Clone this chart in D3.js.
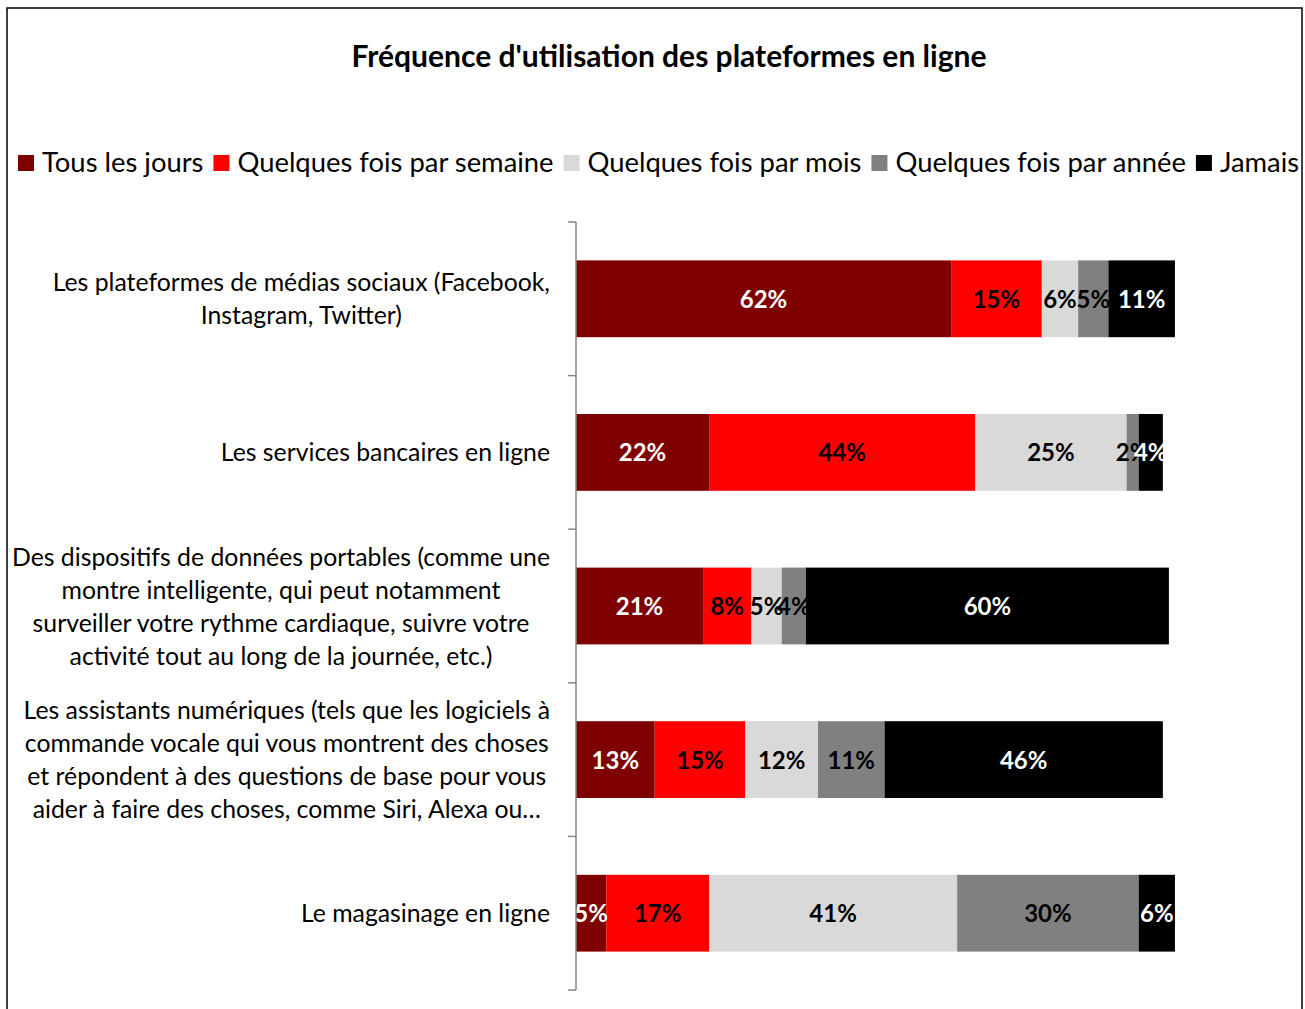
<!DOCTYPE html>
<html>
<head>
<meta charset="utf-8">
<script src="https://cdn.jsdelivr.net/npm/d3@7"></script>
<style>
  body { margin: 0; background: #fff; }
  text { font-family: Lato, "Open Sans", sans-serif; }
</style>
</head>
<body>
<svg id="chart" width="1305" height="1009"></svg>
<script>
// Data
var categories = [
  ["Les plateformes de médias sociaux (Facebook,", "Instagram, Twitter)"],
  ["Les services bancaires en ligne"],
  ["Des dispositifs de données portables (comme une", "montre intelligente, qui peut notamment", "surveiller votre rythme cardiaque, suivre votre", "activité tout au long de la journée, etc.)"],
  ["Les assistants numériques (tels que les logiciels à", "commande vocale qui vous montrent des choses", "et répondent à des questions de base pour vous", "aider à faire des choses, comme Siri, Alexa ou…"],
  ["Le magasinage en ligne"]
];
var seriesNames = ["Tous les jours", "Quelques fois par semaine", "Quelques fois par mois", "Quelques fois par année", "Jamais"];
var tousLesJours = [62, 22, 21, 13, 5];
var parSemaine = [15, 44, 8, 15, 17];
var parMois = [6, 25, 5, 12, 41];
var parAnnee = [5, 2, 4, 11, 30];
var jamais = [11, 4, 60, 46, 6];
var colors = ["#7F0000", "#FF0000", "#D9D9D9", "#808080", "#000000"];
var labelColors = ["#fff", "#000", "#000", "#000", "#fff"];

var svg = d3.select("#chart");

// frame
svg.append("rect")
  .attr("x", 7).attr("y", 8)
  .attr("width", 1295).attr("height", 1020)
  .attr("fill", "none").attr("stroke", "#000").attr("stroke-width", 1.5);

// title
svg.append("text")
  .attr("x", 669).attr("y", 67)
  .attr("text-anchor", "middle")
  .attr("font-size", 30).attr("font-weight", "bold")
  .text("Fréquence d'utilisation des plateformes en ligne");

// scales
var idx = d3.range(categories.length);
var y = d3.scaleBand().domain(idx).range([222, 990]).paddingInner(0.5).paddingOuter(0.25);
var x = d3.scaleLinear().domain([0, 100]).range([576, 1181]);

var rows = idx.map(i => ({ i: i, values: [tousLesJours[i], parSemaine[i], parMois[i], parAnnee[i], jamais[i]] }));
var stack = d3.stack().keys(d3.range(5)).value((d, k) => d.values[k]);
var layers = stack(rows);

var g = svg.append("g");
layers.forEach((layer, k) => {
  g.append("g").selectAll("rect").data(layer).join("rect")
    .attr("x", d => x(d[0]))
    .attr("y", d => y(d.data.i))
    .attr("width", d => x(d[1]) - x(d[0]))
    .attr("height", y.bandwidth())
    .attr("fill", colors[k]);
});
layers.forEach((layer, k) => {
  g.append("g").selectAll("text").data(layer).join("text")
    .attr("x", d => (x(d[0]) + x(d[1])) / 2)
    .attr("y", d => y(d.data.i) + y.bandwidth() / 2 + 9)
    .attr("text-anchor", "middle")
    .attr("font-size", 24).attr("font-weight", "bold")
    .attr("fill", labelColors[k])
    .text(d => (d[1] - d[0]) + "%");
});

// axis line and ticks at category boundaries
var axis = svg.append("g").attr("stroke", "#868686").attr("stroke-width", 1.5);
axis.append("line").attr("x1", 576).attr("x2", 576).attr("y1", y.range()[0]).attr("y2", y.range()[1]);
d3.range(categories.length + 1).forEach(j => {
  var yy = y.range()[0] + j * y.step();
  axis.append("line").attr("x1", 568).attr("x2", 576).attr("y1", yy).attr("y2", yy);
});

// category labels (centred block, right aligned to the axis)
idx.forEach(i => {
  var lines = categories[i];
  var t = svg.append("text").attr("font-size", 24.8).attr("fill", "#000");
  var cy = y(i) + y.bandwidth() / 2;
  var lh = 33;
  var top = cy - (lines.length - 1) * lh / 2 + 9;
  var spans = lines.map((l, j) => t.append("tspan").attr("y", top + j * lh).text(l));
  var maxW = d3.max(spans, s => s.node().getComputedTextLength());
  var cx = 550 - maxW / 2;
  spans.forEach(s => s.attr("x", cx).attr("text-anchor", "middle"));
});

// legend
var lgX = 18;
var legend = svg.append("g");
seriesNames.forEach((name, k) => {
  legend.append("rect").attr("x", lgX).attr("y", 155).attr("width", 16).attr("height", 16).attr("fill", colors[k]);
  var t = legend.append("text").attr("x", lgX + 24).attr("y", 172).attr("font-size", 27.4).text(name);
  lgX += 24 + t.node().getComputedTextLength() + 10;
});
</script>
</body>
</html>
